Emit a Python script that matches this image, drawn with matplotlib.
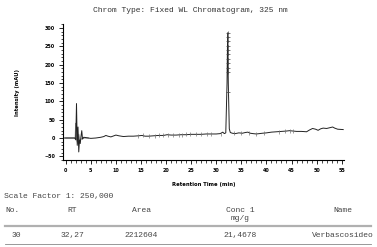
import matplotlib
matplotlib.use("Agg")
import matplotlib.pyplot as plt
from matplotlib.lines import Line2D
from matplotlib.ticker import MultipleLocator

# Chromatogram trace (black)
rt = [-0.3, 1.8, 2.0, 2.15, 2.3, 2.45, 2.6, 2.75, 2.9, 3.05, 3.2, 3.35, 3.6,
      4.5, 5.0, 6.0, 7.0, 7.6, 8.0, 8.4, 9.0, 9.6, 10.0, 10.6, 11.5, 12.5,
      13.5, 14.5, 15.2, 15.8, 16.5, 17.5, 18.5, 19.5, 20.2, 21.0, 22.0, 23.0,
      24.0, 25.0, 26.0, 27.0, 28.0, 29.0, 30.0, 30.8, 31.3, 31.6, 31.9, 32.15,
      32.27, 32.4, 32.6, 32.8, 33.2, 33.8, 34.5, 35.2, 35.8, 36.3, 36.8, 37.3,
      38.0, 38.6, 39.2, 40.0, 41.0, 42.0, 43.0, 44.0, 44.6, 45.3, 46.0, 47.0,
      48.0, 48.6, 49.2, 49.8, 50.3, 50.8, 51.3, 52.0, 52.6, 53.2, 53.6, 54.2,
      55.3]
intensity = [0, 0, -5, 94, -20, 30, -38, -5, -15, 5, 20, -3, 2,
             0, -1, 0, 2, 4, 7, 5, 3, 6, 8, 6, 4, 5,
             5, 6, 7, 5, 5, 6, 7, 7, 9, 8, 8, 9,
             9, 10, 10, 10, 11, 11, 11, 12, 16, 12, 14, 150,
             287, 150, 25, 15, 13, 12, 14, 13, 15, 16, 13, 12,
             11, 12, 13, 14, 16, 17, 18, 19, 20, 19, 18, 18,
             17, 22, 26, 24, 21, 25, 27, 26, 28, 30, 27, 24,
             23]

# second (gray) trace near the solvent front
rt_gray = [0.0, 1.9, 2.0, 2.1, 2.4, 2.6, 2.8, 3.5, 4.5]
int_gray = [0, 0, 40, 0, -15, 10, -5, 0, 0]

# gray "+" noise marks along the baseline
rt_marks = [14.5, 15.5, 16.5, 17.8, 18.6, 19.4, 20.4, 21.3, 22.5, 23.2, 24.0,
            24.8, 26.0, 27.0, 28.2, 29.0, 31.0, 33.5, 35.0, 36.5, 38.0, 39.5,
            42.5, 43.8, 44.6, 45.2]
int_marks = [6, 7, 5, 6, 7, 8, 8, 9, 9, 9, 10, 10, 10, 11, 11, 11, 12, 13,
             13, 15, 11, 13, 17, 18, 20, 19]

# markers on the main peak
rt_peak = [32.27] * 11
int_peak = [126, 180, 192, 204, 216, 228, 240, 252, 264, 276, 286]

# results table
headers = ["No.", "RT", "Area", "Conc 1", "Name"]
row = ["30", "32,27", "2212604", "21,4678", "Verbascosideo"]

fig = plt.figure(figsize=(3.77, 2.47), dpi=100)
ax = fig.add_axes([63.3 / 377, 1 - 160 / 247, (344 - 63.3) / 377, (160 - 24) / 247])

ax.plot(rt_gray, int_gray, c="#8a8a8a", lw=0.8)
ax.plot(rt, intensity, c="#222222", lw=0.7)
ax.plot(rt_marks, int_marks, ls="none", marker="|", ms=3.5, mew=0.5, c="#777777")
ax.plot(rt_peak, int_peak, ls="none", marker="+", ms=2.5, mew=0.5, c="#444444")

ax.set_xlim(-0.48, 55.46)
ax.set_ylim(-60, 311)
ax.spines["top"].set_visible(False)
ax.spines["right"].set_visible(False)
for s in ("left", "bottom"):
    ax.spines[s].set_linewidth(0.8)

ax.xaxis.set_major_locator(MultipleLocator(5))
ax.xaxis.set_minor_locator(MultipleLocator(1))
ax.yaxis.set_major_locator(MultipleLocator(50))
ax.yaxis.set_minor_locator(MultipleLocator(10))
ax.tick_params(which="major", length=3, width=0.6, labelsize=3.5, pad=3)
ax.tick_params(which="minor", length=1.8, width=0.5)
for lab in ax.get_xticklabels() + ax.get_yticklabels():
    lab.set_fontweight("bold")

ax.set_xlabel("Retention Time (min)", fontsize=3.8, fontweight="bold", labelpad=6)
ax.set_ylabel("Intensity (mAU)", fontsize=3.8, fontweight="bold", labelpad=17)

mono = "Liberation Mono"
fig.text(190 / 377, 1 - 11 / 247, "Chrom Type: Fixed WL Chromatogram, 325 nm",
         family=mono, fontsize=5.8, color="#333333", ha="center", va="center")

tc = "#444444"
fig.text(4 / 377, 1 - 196.5 / 247, "Scale Factor 1: 250,000", family=mono,
         fontsize=5.8, color=tc, ha="left", va="center")
col_x = [5, 72, 141, 240, 343]
row_x = [12, 72, 141, 240, 343]
for i, (h, r) in enumerate(zip(headers, row)):
    ha = "left" if i == 0 else "center"
    fig.text(col_x[i] / 377, 1 - 210 / 247, h, family=mono, fontsize=5.8,
             color=tc, ha=ha, va="center")
    fig.text(row_x[i] / 377, 1 - 235 / 247, r, family=mono, fontsize=5.8,
             color=tc, ha=ha, va="center")
fig.text(240 / 377, 1 - 218 / 247, "mg/g", family=mono, fontsize=5.8,
         color=tc, ha="center", va="center")

fig.add_artist(Line2D([5 / 377, 371 / 377], [1 - 225.7 / 247] * 2,
                      transform=fig.transFigure, c="#b0b0b0", lw=1.6))
fig.add_artist(Line2D([5 / 377, 371 / 377], [1 - 243.7 / 247] * 2,
                      transform=fig.transFigure, c="#888888", lw=0.6))

fig.savefig("out.png", dpi=100)
